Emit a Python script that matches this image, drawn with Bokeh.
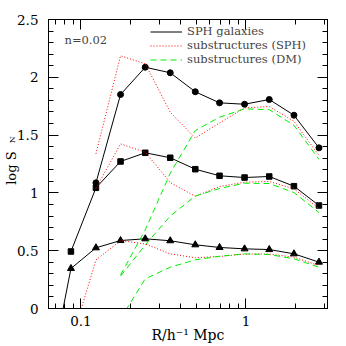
import math
from bokeh.plotting import figure
from bokeh.models import (LogAxis, LinearAxis, FixedTicker, CustomJSTickFormatter,
                          Label, Legend, LegendItem, Range1d)
from bokeh.embed import file_html
from bokeh.resources import INLINE

nan = float("nan")

# radial bins (R / h^-1 Mpc)
r_bins = [0.0615, 0.0870, 0.1233, 0.1738, 0.2453, 0.3477, 0.4932, 0.6918, 0.9806, 1.384, 1.954, 2.770]

# SPH galaxies (three density thresholds)
gal_high = [nan, nan, 1.087, 1.851, 2.087, 2.039, 1.875, 1.779, 1.767, 1.808, 1.672, 1.390]
gal_mid = [nan, 0.493, 1.044, 1.272, 1.347, 1.304, 1.205, 1.148, 1.133, 1.142, 1.058, 0.891]
gal_low = [-0.75, 0.346, 0.525, 0.588, 0.603, 0.586, 0.551, 0.528, 0.516, 0.510, 0.473, 0.401]

# substructures (SPH)
sph_high = [nan, nan, 1.338, 2.186, 2.117, 1.698, 1.475, 1.605, 1.736, 1.747, 1.620, 1.323]
sph_mid = [nan, nan, 1.040, 1.424, 1.352, 1.090, 0.970, 1.055, 1.093, 1.099, 1.035, 0.865]
sph_low = [nan, -0.30, 0.420, 0.588, 0.558, 0.473, 0.439, 0.450, 0.471, 0.471, 0.444, 0.372]

# substructures (DM)
dm_high = [nan, nan, nan, 0.290, 0.680, 1.170, 1.540, 1.655, 1.727, 1.720, 1.585, 1.290]
dm_mid = [nan, nan, nan, 0.280, 0.550, 0.800, 0.973, 1.038, 1.084, 1.081, 1.003, 0.830]
dm_low = [nan, nan, nan, -0.09, 0.257, 0.357, 0.421, 0.452, 0.473, 0.467, 0.430, 0.357]

x_major = [0.1, 1]
x_minor = [0.07, 0.08, 0.09, 0.2, 0.3, 0.4, 0.5, 0.6, 0.7, 0.8, 0.9, 2, 3]
y_major = [0, 0.5, 1, 1.5, 2, 2.5]
y_minor = [round(i * 0.1, 1) for i in range(26) if i % 5 != 0]

FONT = "DejaVu Serif"
NB = "\u00a0"

p = figure(width=346, height=346, x_axis_type="log",
           x_range=Range1d(0.0636, 3.12), y_range=Range1d(0, 2.5),
           output_backend="svg", toolbar_location=None,
           min_border_left=48, min_border_right=19, min_border_top=19, min_border_bottom=38)
p.grid.visible = False
p.outline_line_color = "black"
p.background_fill_color = "white"

def style_axis(ax, labels=True, standoff=6):
    ax.major_tick_in = 10
    ax.major_tick_out = 0
    ax.minor_tick_in = 5
    ax.minor_tick_out = 0
    ax.axis_line_color = "black"
    ax.major_tick_line_color = "black"
    ax.minor_tick_line_color = "black"
    ax.major_label_text_font = FONT
    ax.major_label_text_font_size = "13.5px"
    ax.major_label_text_color = "black"
    ax.major_label_standoff = standoff
    ax.axis_label_text_font = FONT
    ax.axis_label_text_font_style = "normal"
    ax.axis_label_text_color = "black"
    if not labels:
        ax.formatter = CustomJSTickFormatter(code="return '';")
        ax.major_label_text_font_size = "0px"
        ax.major_label_standoff = 0

xt = FixedTicker(ticks=x_major, minor_ticks=x_minor)
yt = FixedTicker(ticks=y_major, minor_ticks=y_minor)

p.xaxis.ticker = xt
p.xaxis.formatter = CustomJSTickFormatter(code="return tick.toString();")
p.yaxis.ticker = yt
p.yaxis.formatter = CustomJSTickFormatter(code="return tick.toString();")
for ax in p.xaxis:
    style_axis(ax, True, 7)
    ax.axis_label = "R/h\u207b\u00b9 Mpc"
    ax.axis_label_text_font_size = "14px"
    ax.axis_label_standoff = -2
for ax in p.yaxis:
    style_axis(ax, True, 10)
    # subscript N of the y title (the main part "log S" is on an outer axis)
    ax.axis_label = NB * 19 + "N"
    ax.axis_label_text_font_size = "8px"
    ax.axis_label_standoff = -3

top = LogAxis(ticker=xt)
style_axis(top, False)
p.add_layout(top, "above")
right = LinearAxis(ticker=yt)
style_axis(right, False)
p.add_layout(right, "right")

def label_axis(text, size, standoff):
    ax = LinearAxis(ticker=FixedTicker(ticks=[]), axis_label=text)
    ax.axis_line_color = None
    ax.major_tick_line_color = None
    ax.minor_tick_line_color = None
    ax.major_label_standoff = 0
    ax.major_label_text_font_size = "0px"
    ax.axis_label_text_font = FONT
    ax.axis_label_text_font_style = "normal"
    ax.axis_label_text_font_size = size
    ax.axis_label_text_color = "black"
    ax.axis_label_standoff = standoff
    return ax

p.add_layout(label_axis("log S" + NB * 2, "13px", -13), "left")

RED = "#ff0000"
GREEN = "#00ee00"

l_gal = None
for ys, mk, sz in [(gal_high, "circle", 6), (gal_mid, "square", 5.5), (gal_low, "triangle", 7)]:
    r = p.line(r_bins, ys, line_color="black", line_width=1)
    if l_gal is None:
        l_gal = r
    p.scatter(r_bins, ys, marker=mk, size=sz, fill_color="black", line_color="black")

l_sph = None
for ys in [sph_high, sph_mid, sph_low]:
    r = p.line(r_bins, ys, line_color=RED, line_width=1, line_dash="1 2")
    if l_sph is None:
        l_sph = r

l_dm = None
for ys in [dm_high, dm_mid, dm_low]:
    r = p.line(r_bins, ys, line_color=GREEN, line_width=1, line_dash="6 4")
    if l_dm is None:
        l_dm = r

legend = Legend(items=[LegendItem(label="SPH galaxies", renderers=[l_gal]),
                       LegendItem(label="substructures (SPH)", renderers=[l_sph]),
                       LegendItem(label="substructures (DM)", renderers=[l_dm])],
                location=(102, 242), glyph_width=32, glyph_height=13, label_height=13,
                label_standoff=5, spacing=-2, padding=0, margin=0,
                border_line_alpha=0, background_fill_alpha=0,
                label_text_font=FONT, label_text_font_size="11.5px")
p.add_layout(legend)

p.add_layout(Label(x=16, y=269, x_units="screen", y_units="screen", text="n=0.02",
                   text_font=FONT, text_font_size="11.5px", text_baseline="middle", text_align="left"))

open("out.html", "w").write(file_html(p, INLINE))
